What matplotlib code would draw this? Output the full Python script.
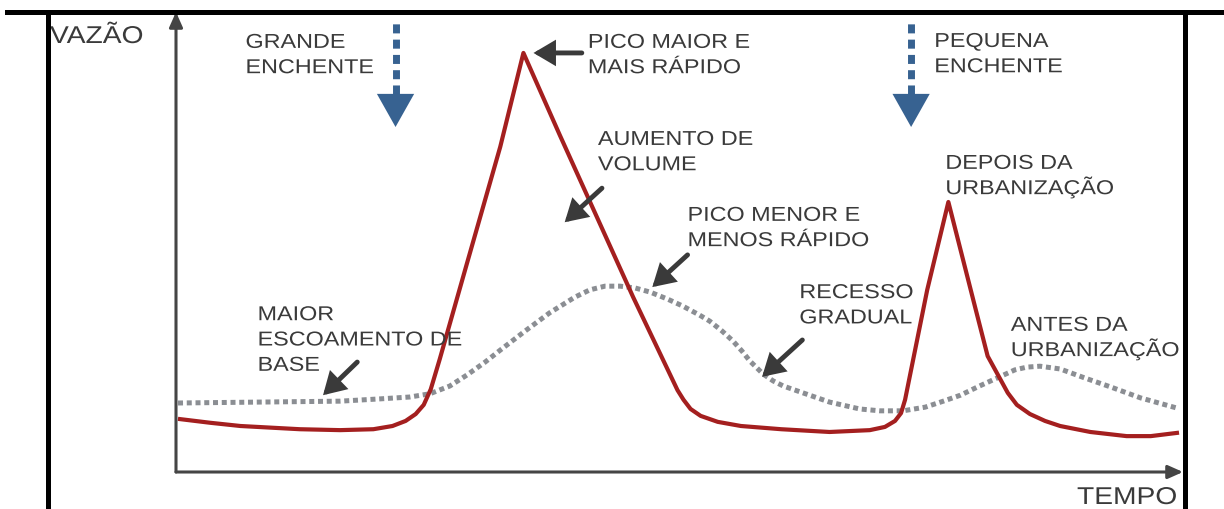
import matplotlib
matplotlib.use("Agg")
import matplotlib.pyplot as plt
from matplotlib.lines import Line2D
from matplotlib.patheffects import AbstractPathEffect
from matplotlib.transforms import Affine2D

plt.rcParams['font.family'] = ['Liberation Sans', 'DejaVu Sans']

# ---------------- data (tempo 0-100, vazao 0-100, arbitrary units) ----------------
depois_t = [0.4, 3.4, 6.4, 12.3, 16.3, 19.6, 21.5, 22.8, 23.8, 24.6, 25.3, 26.2,
            28.9, 32.2, 34.5, 38.1, 45.4, 49.8, 50.4, 51.1, 52.1, 53.8, 56.1,
            60.1, 64.9, 68.9, 70.4, 71.4, 72.0, 72.4, 74.6, 76.7, 79.5, 80.6,
            81.8, 82.6, 83.5, 84.8, 86.3, 87.8, 90.8, 94.4, 96.8, 99.4]
depois_q = [11.5, 10.7, 10.0, 9.3, 9.1, 9.3, 10.0, 11.1, 12.6, 14.6, 18.0, 24.6,
            45.4, 70.7, 91.1, 73.3, 38.0, 17.8, 15.7, 13.7, 12.2, 10.9, 10.0,
            9.3, 8.7, 9.1, 9.8, 11.1, 12.8, 15.7, 39.6, 58.7, 34.6, 25.2,
            20.4, 17.2, 14.6, 12.6, 11.1, 10.0, 8.7, 7.8, 7.8, 8.5]

antes_t = [0.2, 8.3, 16.3, 20.3, 23.2, 25.2, 27.2, 28.9, 30.7, 32.2, 34.7, 37.1,
           39.6, 41.1, 42.6, 44.1, 45.6, 47.1, 48.8, 50.3, 52.0, 53.0, 54.2,
           55.3, 56.2, 57.0, 57.7, 58.3, 59.3, 60.3, 62.0, 64.9, 67.9, 69.9,
           72.2, 74.4, 76.2, 77.9, 79.8, 81.8, 83.3, 84.5, 85.8, 87.8, 90.3,
           92.8, 95.8, 99.4]
antes_q = [15.0, 15.2, 15.4, 15.9, 16.3, 17.0, 18.7, 21.1, 23.9, 26.5, 30.7, 34.6,
           38.0, 39.6, 40.4, 40.4, 40.0, 39.1, 37.6, 36.1, 34.1, 32.8, 30.7,
           28.5, 26.3, 24.1, 22.6, 21.3, 19.8, 18.7, 17.4, 15.2, 13.7, 13.3,
           13.3, 14.1, 15.4, 16.7, 18.7, 20.7, 22.2, 22.8, 23.0, 22.4, 20.4,
           18.5, 16.1, 13.9]

lbl_grande = ["GRANDE", "ENCHENTE"]
lbl_pequena = ["PEQUENA", "ENCHENTE"]
lbl_pico_maior = ["PICO MAIOR E", "MAIS RÁPIDO"]
lbl_volume = ["AUMENTO DE", "VOLUME"]
lbl_pico_menor = ["PICO MENOR E", "MENOS RÁPIDO"]
lbl_depois = ["DEPOIS DA", "URBANIZAÇÃO"]
lbl_recesso = ["RECESSO", "GRADUAL"]
lbl_antes = ["ANTES DA", "URBANIZAÇÃO"]
lbl_base = ["MAIOR", "ESCOAMENTO DE", "BASE"]

RED = '#a41f1f'
GRAY = '#8b8e93'
DARK = '#3a3a3a'
BLUE = '#376291'


class StretchX(AbstractPathEffect):
    """Draw text glyphs horizontally stretched (the original lettering is wide)."""

    def __init__(self, sx):
        super().__init__()
        self.sx = sx

    def draw_path(self, renderer, gc, tpath, affine, rgbFace=None):
        m = affine.get_matrix().copy()
        m[0, 0] *= self.sx
        m[0, 1] *= self.sx
        renderer.draw_path(gc, tpath, Affine2D(m), rgbFace)


wide = [StretchX(1.16)]

fig = plt.figure(figsize=(12.24, 5.09), dpi=100)
ax = fig.add_axes([176 / 1224, 37 / 509, 1007 / 1224, 460 / 509])
ax.set_xlim(0, 100)
ax.set_ylim(0, 100)
ax.axis('off')

# axes with arrow tips
axis_style = dict(arrowstyle='-|>,head_length=0.9,head_width=0.4', lw=2.2,
                  color='#454545', shrinkA=0, shrinkB=0, mutation_scale=10)
ax.annotate('', xy=(0, 1), xytext=(0, 0), xycoords='axes fraction', arrowprops=axis_style)
ax.annotate('', xy=(1, 0), xytext=(0, 0), xycoords='axes fraction', arrowprops=axis_style)

# hydrographs
ax.plot(antes_t, antes_q, color=GRAY, lw=3.6, dashes=(1, 0.75), clip_on=False)
ax.plot(depois_t, depois_q, color=RED, lw=3, solid_joinstyle='round', clip_on=False)


def label(t, q, lines, step=5.5):
    for i, line in enumerate(lines):
        ax.text(t, q - i * step, line, fontsize=14.5, color=DARK,
                ha='left', va='baseline', path_effects=wide)


def pointer(t0, q0, t1, q1):
    ax.annotate('', xy=(t1, q1), xytext=(t0, q0),
                arrowprops=dict(arrowstyle='-|>,head_length=1.1,head_width=0.65',
                                lw=3.5, color=DARK, shrinkA=0, shrinkB=0,
                                mutation_scale=10, joinstyle='miter'))


def rain_arrow(t):
    ax.vlines(t, 82.2, 97.8, colors=BLUE, lw=5, linestyles=(0, (1.3, 0.9)))
    ax.arrow(t, 82.2, 0, -7.2, width=0, head_width=3.7, head_length=7.2,
             length_includes_head=True, color=BLUE, lw=0)


label(6.9, 92.2, lbl_grande)
label(75.3, 92.4, lbl_pequena)
label(40.9, 92.2, lbl_pico_maior)
label(41.9, 71.1, lbl_volume)
label(50.8, 54.6, lbl_pico_menor)
label(76.4, 65.9, lbl_depois)
label(61.9, 37.8, lbl_recesso)
label(82.9, 30.7, lbl_antes)
label(8.1, 33.0, lbl_base)

pointer(40.3, 91.1, 35.5, 91.1)
pointer(42.3, 61.7, 38.6, 54.3)
pointer(50.8, 47.2, 47.3, 40.2)
pointer(62.2, 28.7, 58.2, 20.7)
pointer(18.0, 23.9, 14.6, 16.7)

rain_arrow(21.8)
rain_arrow(73.0)

fig.text(50 / 1224, (509 - 43) / 509, "VAZÃO", fontsize=17.5, color=DARK,
         ha='left', va='baseline', path_effects=wide)
fig.text(1077 / 1224, (509 - 504) / 509, "TEMPO", fontsize=17.5, color=DARK,
         ha='left', va='baseline', path_effects=wide)

# table borders
top_y = (509 - 11.5) / 509
for xs, ys in [([7 / 1224, 1], [top_y, top_y]),
               ([48 / 1224, 48 / 1224], [0, top_y]),
               ([1184.5 / 1224, 1184.5 / 1224], [0, top_y])]:
    fig.add_artist(Line2D(xs, ys, transform=fig.transFigure, color='black',
                          lw=3.6, zorder=5, solid_capstyle='projecting'))

fig.savefig('out.png', dpi=100)
